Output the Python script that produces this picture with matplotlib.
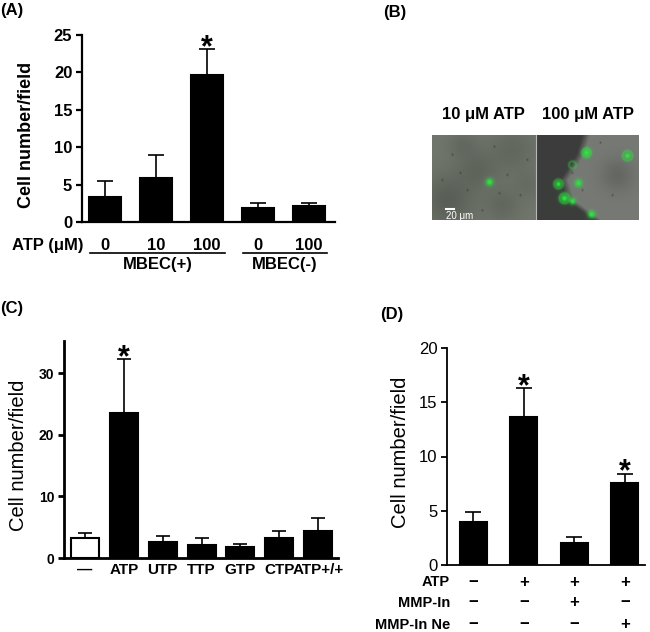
import numpy as np
import matplotlib
matplotlib.use('Agg')
import matplotlib.pyplot as plt
from matplotlib.transforms import blended_transform_factory
from matplotlib.lines import Line2D

plt.rcParams['font.family'] = ['Liberation Sans', 'DejaVu Sans']

# ---- data ----
# (A) cell number / field vs ATP dose, with / without MBEC
a_doses = ['0', '10', '100', '0', '100']
a_means = [3.3, 5.9, 19.6, 1.9, 2.2]
a_errs = [2.2, 3.1, 3.5, 0.6, 0.4]
a_groups = ['MBEC(+)', 'MBEC(-)']
a_group_span = [(0, 2), (3, 4)]
a_sig = [2]

# (B) confocal images: titles and green cell spots (x, y, size) in image pixels
b_titles = ['10 \u03bcM ATP', '100 \u03bcM ATP']
b_cells = [(57, 47, 2.6), (154, 18, 2.8), (195, 21, 2.3), (126, 49, 2.3), (146, 48, 2.6),
           (132, 63, 3.0), (140, 66, 2.2), (159, 79, 2.6)]
b_rings = [(140, 30, 3.5), (126, 49, 4.5), (195, 21, 5.0), (154, 18, 4.5), (132, 63, 5.0)]
b_specks = [(20, 20), (35, 55), (62, 12), (75, 40), (88, 60), (50, 75), (10, 45),
            (95, 25), (28, 38), (67, 58), (140, 38), (168, 8), (180, 60), (150, 55)]
b_scale = '20 \u03bcm'

# (C) nucleotides
c_labels = ['\u2014', 'ATP', 'UTP', 'TTP', 'GTP', 'CTP', 'ATP+/+']
c_means = [3.2, 23.5, 2.6, 2.1, 1.8, 3.3, 4.4]
c_errs = [0.8, 8.8, 1.0, 1.1, 0.4, 1.1, 2.1]
c_sig = [1]

# (D) MMP inhibitor
d_means = [4.0, 13.6, 2.0, 7.6]
d_errs = [0.9, 2.7, 0.6, 0.8]
d_rows = ['ATP', 'MMP-In', 'MMP-In Ne']
d_signs = [['\u2212', '+', '+', '+'],
           ['\u2212', '\u2212', '+', '\u2212'],
           ['\u2212', '\u2212', '\u2212', '+']]
d_sig = [1, 3]

W, H = 650, 632
fig = plt.figure(figsize=(W / 100, H / 100), dpi=100)


def box(l, t, r, b):
    return [l / W, 1 - b / H, (r - l) / W, (b - t) / H]


def fy(y):
    return 1 - y / H


def style(ax, lw, ticksize, tickweight):
    for s in ['top', 'right']:
        ax.spines[s].set_visible(False)
    for s in ['left', 'bottom']:
        ax.spines[s].set_linewidth(lw)
    ax.set_xticks([])
    ax.tick_params(axis='y', direction='out', length=4, width=lw, labelsize=ticksize, pad=3)
    for t in ax.get_yticklabels():
        t.set_fontweight(tickweight)


def bars(ax, means, errs, width, colors, capsize):
    x = np.arange(len(means))
    ax.errorbar(x, means, yerr=[np.zeros(len(errs)), errs], fmt='none', ecolor='black',
                elinewidth=1.2, capsize=capsize, capthick=1.2, zorder=1)
    ax.bar(x, means, width, color=colors, edgecolor='black', linewidth=1.5, zorder=2)
    return x


def star(ax, x, top, gap_px):
    size = 22
    off_px = gap_px - 0.55 * size * 100 / 72
    ax.annotate('*', (x, top), xytext=(0, off_px * 72 / 100), textcoords='offset points',
                ha='center', va='baseline', fontsize=size, fontweight='bold')


# ---------------- (A) ----------------
axA = fig.add_axes(box(82, 35, 335, 222))
xa = bars(axA, a_means, a_errs, 0.63, 'black', 6)
axA.set_xlim(-0.45, 4.51)
axA.set_ylim(0, 25)
axA.set_yticks([0, 5, 10, 15, 20, 25])
style(axA, 1.6, 12, 'bold')
for i in a_sig:
    star(axA, xa[i], a_means[i] + a_errs[i], 10)
trA = blended_transform_factory(axA.transData, fig.transFigure)
fig.text(83 / W, fy(245), 'ATP (\u03bcM)', ha='right', va='center', fontsize=12, fontweight='bold')
for i, lab in enumerate(a_doses):
    axA.text(xa[i], fy(245), lab, transform=trA, ha='center', va='center',
             fontsize=12, fontweight='bold')
for name, (s, e) in zip(a_groups, a_group_span):
    fig.add_artist(Line2D([s - 0.3, e + 0.35], [fy(253), fy(253)], transform=trA,
                          color='black', lw=1.2))
    axA.text((s + e) / 2 + 0.03, fy(265), name, transform=trA, ha='center', va='center',
             fontsize=12, fontweight='bold')
fig.text(27 / W, fy(135), 'Cell number/field', rotation=90, ha='center', va='center',
         fontsize=13, fontweight='bold')
fig.text(0, fy(11), '(A)', ha='left', va='center', fontsize=12, fontweight='bold')

# ---------------- (B) ----------------
iw, ih = 207, 85
yy, xx = np.mgrid[0:ih, 0:iw].astype(float)
img = np.zeros((ih, iw, 3))
left = xx < 104
base_l = np.array([112, 118, 108]) / 255
img[left] = base_l
# darker mottled areas on the left image
for cx, cy, r, amt in [(15, 65, 18, 0.20), (45, 35, 14, 0.14), (80, 15, 16, 0.12),
                       (70, 70, 12, 0.12), (30, 10, 10, 0.10), (95, 50, 10, 0.08)]:
    m = np.exp(-((xx - cx) ** 2 + (yy - cy) ** 2) / (2 * r ** 2)) * left
    img *= (1 - amt * m)[..., None]
# right image: dark band then lighter field
bx = np.interp(yy, [0, 20, 45, 65, 85], [46, 40, 24, 30, 58]) + 104
right = ~left
dark_c = np.array([60, 61, 60]) / 255
light_c = np.array([118, 121, 116]) / 255
soft = np.clip((xx - bx) / 8, 0, 1)
sel = right
img[sel] = dark_c * (1 - soft[sel, None]) + light_c * soft[sel, None]
# slightly darker patch at the top right of the right image
m = np.exp(-((xx - 185) ** 2 + (yy - 40) ** 2) / (2 * 12 ** 2)) * right
img *= (1 - 0.15 * m)[..., None]
for cx, cy in b_specks:
    a = 0.35 * np.exp(-((xx - cx) ** 2 + (yy - cy) ** 2) / 1.0)
    img *= (1 - a)[..., None]
green = np.array([40, 235, 60]) / 255
for cx, cy, r in b_rings:
    d = np.sqrt((xx - cx) ** 2 + (yy - cy) ** 2)
    a = 0.4 * np.exp(-((d - r) ** 2) / 1.5)
    img = img * (1 - a[..., None]) + green * a[..., None]
for cx, cy, r in b_cells:
    a = np.exp(-((xx - cx) ** 2 + (yy - cy) ** 2) / (2 * r ** 2))
    img = img * (1 - a[..., None]) + green * a[..., None]
axB = fig.add_axes(box(432, 135, 639, 220))
axB.imshow(np.clip(img, 0, 1), aspect='auto', interpolation='bilinear')
axB.axvline(103.5, color='#b8b8b8', lw=0.8)
axB.set_xticks([])
axB.set_yticks([])
for s in axB.spines.values():
    s.set_visible(False)
axB.plot([13, 21], [73, 73], color='white', lw=1.5)
axB.text(13, 80, b_scale, color='white', fontsize=7, ha='left', va='center')
fig.text(483 / W, fy(115), b_titles[0], ha='center', va='center', fontsize=12, fontweight='bold')
fig.text(588 / W, fy(115), b_titles[1], ha='center', va='center', fontsize=12, fontweight='bold')
fig.text(383 / W, fy(12), '(B)', ha='left', va='center', fontsize=12, fontweight='bold')

# ---------------- (C) ----------------
axC = fig.add_axes(box(64, 341, 338, 558))
xc = bars(axC, c_means, c_errs, 0.72, ['white'] + ['black'] * 6, 5)
axC.set_xlim(-0.54, 6.51)
axC.set_ylim(0, 35.2)
axC.set_yticks([0, 10, 20, 30])
style(axC, 2.0, 10, 'bold')
for i in c_sig:
    star(axC, xc[i], c_means[i] + c_errs[i], 9)
trC = blended_transform_factory(axC.transData, fig.transFigure)
for i, lab in enumerate(c_labels):
    axC.text(xc[i], fy(570), lab, transform=trC, ha='center', va='center',
             fontsize=11, fontweight='bold')
fig.text(19 / W, fy(455), 'Cell number/field', rotation=90, ha='center', va='center',
         fontsize=14.5)
fig.text(0, fy(309), '(C)', ha='left', va='center', fontsize=12, fontweight='bold')

# ---------------- (D) ----------------
axD = fig.add_axes(box(447, 348, 645, 565))
xd = bars(axD, d_means, d_errs, 0.53, 'black', 6)
axD.set_xlim(-0.52, 3.4)
axD.set_ylim(0, 20)
axD.set_yticks([0, 5, 10, 15, 20])
style(axD, 1.3, 12, 'normal')
for i in d_sig:
    star(axD, xd[i], d_means[i] + d_errs[i], 10)
trD = blended_transform_factory(axD.transData, fig.transFigure)
for row, signs, y in zip(d_rows, d_signs, [582, 603, 625]):
    fig.text(450 / W, fy(y), row, ha='right', va='center', fontsize=10.5, fontweight='bold')
    for i, s in enumerate(signs):
        axD.text(xd[i], fy(y), s, transform=trD, ha='center', va='center',
                 fontsize=12, fontweight='bold')
fig.text(400 / W, fy(452), 'Cell number/field', rotation=90, ha='center', va='center',
         fontsize=14.5)
fig.text(380 / W, fy(314), '(D)', ha='left', va='center', fontsize=12, fontweight='bold')

fig.savefig('out.png', dpi=100)
